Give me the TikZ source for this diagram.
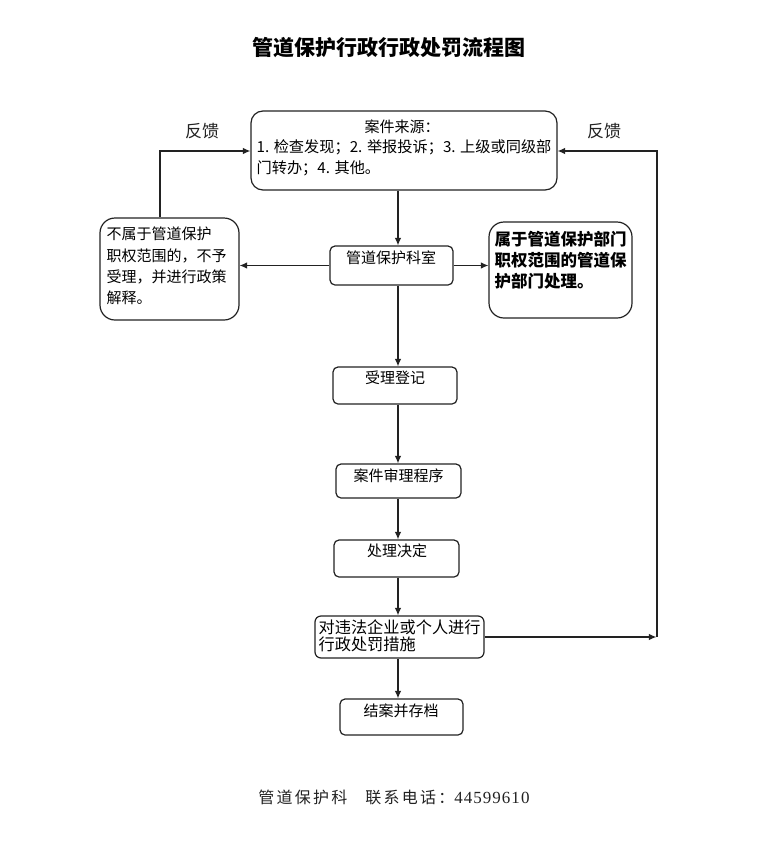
\documentclass[tikz,border=0pt]{standalone}
\usepackage{fontspec}
\setmainfont{Noto Sans CJK SC}
\newfontfamily\footcjk[LetterSpace=14]{Noto Sans CJK SC}
\newfontfamily\footnum[LetterSpace=6]{Liberation Serif}
\usetikzlibrary{arrows.meta,calc}
\definecolor{ln}{HTML}{222222}
\begin{document}
\begin{tikzpicture}[x=1pt,y=-1pt,
  line width=1.2pt,
  >={Latex[length=7.5pt,width=6.5pt]},
  box/.style={draw=ln, inner sep=0pt, rounded corners=#1},
  box/.default=6pt,
  txt/.style={inner sep=0pt, font=\fontsize{15}{20.5}\selectfont},
  conn/.style={draw=ln, ->}]
\useasboundingbox (0,0) rectangle (781,849);
\fill[white] (0,0) rectangle (781,849);

% title
\node[inner sep=0pt, font=\fontsize{21}{24}\selectfont\bfseries] (title) at (389,48) {管道保护行政行政处罚流程图};

% boxes
\node[box=12pt, minimum width=306pt, minimum height=79pt] (src) at (404,150.5) {};
\node[box=5pt, minimum width=123pt, minimum height=39pt] (dept) at (391.5,265.5) {};
\node[box=15pt, minimum width=139pt, minimum height=102pt] (left) at (169.5,269) {};
\node[box=15pt, minimum width=143pt, minimum height=96pt] (right) at (560.5,270) {};
\node[box=5pt, minimum width=124pt, minimum height=37pt] (reg) at (395,385.5) {};
\node[box=5pt, minimum width=125pt, minimum height=34pt] (rev) at (398.5,481) {};
\node[box=5pt, minimum width=125pt, minimum height=37pt] (dec) at (396.5,558.5) {};
\node[box=6pt, minimum width=169pt, minimum height=42pt] (pen) at (399.5,637) {};
\node[box=5pt, minimum width=123pt, minimum height=36pt] (arc) at (401.5,717) {};

% texts
\node[txt] (srch) at (402,127) {案件来源：};
\node[txt, anchor=west, align=left, font=\fontsize{15.2}{20.8}\selectfont] (srct) at (256,157.5) {1. 检查发现；2. 举报投诉；3. 上级或同级部\\门转办；4. 其他。};
\node[txt, anchor=center] (deptt) at (391,258) {管道保护科室};
\node[txt, anchor=west, align=left, font=\fontsize{15}{21.3}\selectfont] (leftt) at (106,266) {不属于管道保护\\职权范围的，不予\\受理，并进行政策\\解释。};
\node[txt, anchor=west, align=left, font=\fontsize{16.5}{21}\selectfont\bfseries] (rightt) at (494,260) {属于管道保护部门\\职权范围的管道保\\护部门处理。};
\node[txt] (regt) at (395,378) {受理登记};
\node[txt] (revt) at (398.5,476) {案件审理程序};
\node[txt] (dect) at (397,551) {处理决定};
\node[txt, anchor=west, align=left, font=\fontsize{16.2}{17}\selectfont] (pent) at (318,635.5) {对违法企业或个人进行\\行政处罚措施};
\node[txt] (arct) at (401,711) {结案并存档};

% feedback labels
\node[inner sep=0pt, font=\fontsize{17}{20}\selectfont, text=ln] (fbl) at (202,131) {反馈};
\node[inner sep=0pt, font=\fontsize{17}{20}\selectfont, text=ln] (fbr) at (604,131) {反馈};

% footer
\node[inner sep=0pt, text=ln] (foot) at (394,797) {{\footcjk\fontsize{16}{20}\selectfont 管道保护科}\hspace{18pt}{\footcjk\fontsize{16}{20}\selectfont 联系电话：}{\footnum\fontsize{17}{20}\selectfont 44599610}};

% connectors
\coordinate (ax) at (398,0);
\coordinate (fbL) at (160,151);
\coordinate (fbR) at (657,151);
\coordinate (fbRb) at (657,637);
\draw[conn] (src.south -| ax) -- (dept.north -| ax);
\draw[conn] (dept.west) -- (left.east |- dept.west);
\draw[conn] (dept.east) -- (right.west |- dept.east);
\draw[conn] (dept.south -| ax) -- (reg.north -| ax);
\draw[conn] (reg.south -| ax) -- (rev.north -| ax);
\draw[conn] (rev.south -| ax) -- (dec.north -| ax);
\draw[conn] (dec.south -| ax) -- (pen.north -| ax);
\draw[conn] (pen.south -| ax) -- (arc.north -| ax);
\draw[conn] (left.north -| fbL) -- (fbL) -- (src.west |- fbL);
\draw[conn, shorten >=0.6pt] (pen.east) -- (fbRb);
\draw[conn] (fbRb) -- (fbR) -- (src.east |- fbR);
\end{tikzpicture}
\end{document}
